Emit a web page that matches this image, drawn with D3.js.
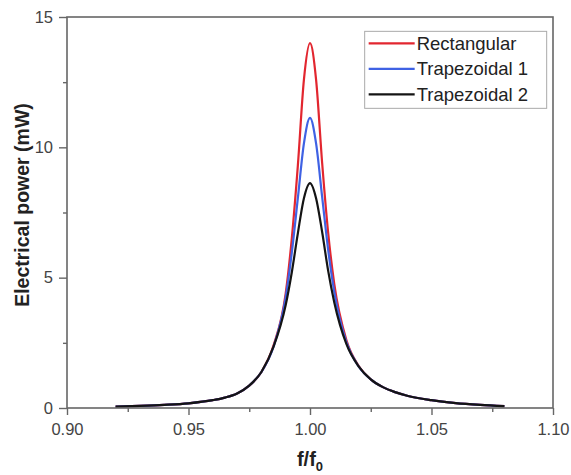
<!DOCTYPE html>
<html>
<head>
<meta charset="utf-8">
<script src="https://cdn.jsdelivr.net/npm/d3@7"></script>
<style>
  body { margin: 0; background: #fff; }
  text { font-family: "Liberation Sans", Arial, sans-serif; }
</style>
</head>
<body>
<div id="plot"></div>
<script>
// frequency ratio f/f0 where the curves were read
const freq = [0.92, 0.93, 0.94, 0.95, 0.96, 0.965, 0.97, 0.975, 0.98, 0.985, 0.99, 0.9925, 0.995, 0.9975, 1.00,
              1.0025, 1.005, 1.0075, 1.01, 1.015, 1.02, 1.025, 1.03, 1.035, 1.04, 1.05, 1.06, 1.07, 1.08];

// electrical power (mW)
const rectangular = [0.05, 0.08, 0.12, 0.18, 0.30, 0.40, 0.56, 0.86, 1.38, 2.40, 4.40, 6.50, 9.30, 12.60, 14.00,
                     12.60, 9.40, 6.70, 4.75, 2.60, 1.62, 1.10, 0.80, 0.61, 0.47, 0.30, 0.19, 0.12, 0.07];
const trapezoidal1 = [0.05, 0.08, 0.12, 0.18, 0.30, 0.40, 0.56, 0.86, 1.38, 2.35, 4.25, 5.95, 8.05, 10.15, 11.13,
                      10.15, 8.10, 6.05, 4.45, 2.52, 1.60, 1.10, 0.80, 0.61, 0.47, 0.30, 0.19, 0.12, 0.07];
const trapezoidal2 = [0.05, 0.08, 0.12, 0.18, 0.30, 0.40, 0.56, 0.86, 1.38, 2.35, 3.95, 5.20, 6.70, 8.05, 8.63,
                      8.05, 6.75, 5.25, 4.05, 2.45, 1.60, 1.10, 0.80, 0.61, 0.47, 0.30, 0.19, 0.12, 0.07];

const seriesNames = ["Rectangular", "Trapezoidal 1", "Trapezoidal 2"];
const seriesColors = ["#e2262f", "#3f62e4", "#141414"];

const xTicks = [0.90, 0.95, 1.00, 1.05, 1.10];
const xMinor = [0.925, 0.975, 1.025, 1.075];
const yTicks = [0, 5, 10, 15];
const yMinor = [2.5, 7.5, 12.5];

var margin = {top: 17, right: 18, bottom: 67, left: 67},
    width = 571 - margin.left - margin.right,
    height = 475 - margin.top - margin.bottom;

const svg = d3.select("#plot")
  .append("svg")
    .attr("width", 571)
    .attr("height", 475)
  .append("g")
    .attr("transform", `translate(${margin.left},${margin.top})`);

var xscale = d3.scaleLinear().domain([0.90, 1.10]).range([0, width]);
var yscale = d3.scaleLinear().domain([0, 15]).range([height, 0]);

// curves, red under blue under black
var valueline = d3.line()
  .x(d => xscale(d[0]))
  .y(d => yscale(d[1]))
  .curve(d3.curveMonotoneX);

[rectangular, trapezoidal1, trapezoidal2].forEach(function(vals, i) {
  svg.append("path")
    .datum(freq.map((f, j) => [f, vals[j]]))
    .attr("fill", "none")
    .attr("stroke", seriesColors[i])
    .attr("stroke-width", 2.2)
    .attr("d", valueline);
});

// frame
svg.append("rect")
  .attr("width", width)
  .attr("height", height)
  .attr("fill", "none")
  .attr("stroke", "#666")
  .attr("stroke-width", 1.6);

const axisStyle = g => {
  g.select(".domain").remove();
  g.selectAll("line").attr("stroke", "#666").attr("stroke-width", 1.4);
  g.selectAll("text").attr("fill", "#444").style("font-size", "16.5px");
};

// x axis
svg.append("g")
  .attr("transform", `translate(0,${height})`)
  .call(d3.axisBottom(xscale).tickValues(xTicks).tickFormat(d3.format(".2f")).tickSize(7).tickPadding(8))
  .call(axisStyle);
svg.append("g")
  .attr("transform", `translate(0,${height})`)
  .call(d3.axisBottom(xscale).tickValues(xMinor).tickFormat("").tickSize(4))
  .call(axisStyle);

// y axis
svg.append("g")
  .call(d3.axisLeft(yscale).tickValues(yTicks).tickFormat(d3.format("d")).tickSize(8).tickPadding(6))
  .call(axisStyle);
svg.append("g")
  .call(d3.axisLeft(yscale).tickValues(yMinor).tickFormat("").tickSize(4))
  .call(axisStyle);

// axis labels
svg.append("text")
  .attr("transform", "rotate(-90)")
  .attr("x", -188)
  .attr("y", -margin.left + 29)
  .attr("text-anchor", "middle")
  .style("font-size", "19.5px")
  .style("font-weight", "bold")
  .attr("fill", "#222")
  .text("Electrical power (mW)");

var xl = svg.append("text")
  .attr("x", width / 2)
  .attr("y", height + 58)
  .attr("text-anchor", "middle")
  .style("font-size", "20px")
  .style("font-weight", "bold")
  .attr("fill", "#222");
xl.append("tspan").text("f/f");
xl.append("tspan").attr("dy", 5).style("font-size", "13px").text("0");

// legend
const legend = svg.append("g")
  .attr("transform", `translate(${xscale(1.0225)},${yscale(14.45)})`);
legend.append("rect")
  .attr("width", 182)
  .attr("height", 77)
  .attr("fill", "#fff")
  .attr("stroke", "#aaa")
  .attr("stroke-width", 1);
seriesNames.forEach(function(name, i) {
  const row = legend.append("g").attr("transform", `translate(0,${12 + i * 25.5})`);
  row.append("line")
    .attr("x1", 4).attr("x2", 50)
    .attr("stroke", seriesColors[i])
    .attr("stroke-width", 2.2);
  row.append("text")
    .attr("x", 52)
    .attr("dy", "0.35em")
    .style("font-size", "18.5px")
    .attr("fill", "#222")
    .text(name);
});
</script>
</body>
</html>
